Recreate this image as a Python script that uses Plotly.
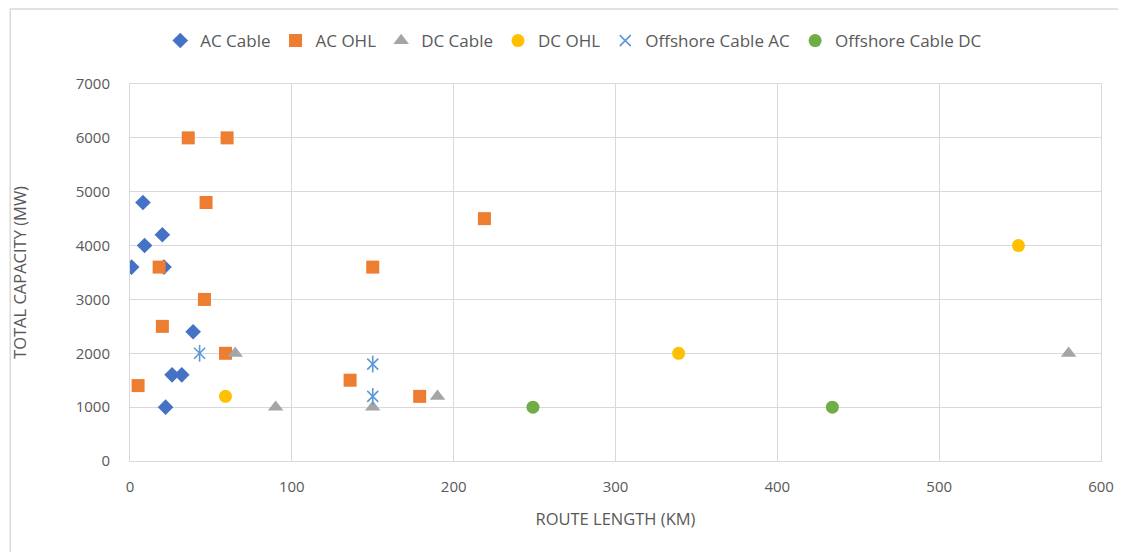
import plotly.graph_objects as go

# ---- data (route length km, total capacity MW) ----
ac_cable_x = [1, 8, 9, 20, 21, 39, 26, 32, 22]
ac_cable_y = [3600, 4800, 4000, 4200, 3600, 2400, 1600, 1600, 1000]

ac_ohl_x = [36, 60, 47, 18, 46, 20, 59, 5, 136, 150, 219, 179]
ac_ohl_y = [6000, 6000, 4800, 3600, 3000, 2500, 2000, 1400, 1500, 3600, 4500, 1200]

dc_cable_x = [65, 90, 150, 190, 580]
dc_cable_y = [2000, 1000, 1000, 1200, 2000]

dc_ohl_x = [59, 339, 549]
dc_ohl_y = [1200, 2000, 4000]

off_ac_x = [43, 150, 150]
off_ac_y = [2000, 1800, 1200]

off_dc_x = [249, 434]
off_dc_y = [1000, 1000]

x_ticks = [0, 100, 200, 300, 400, 500, 600]
y_ticks = [0, 1000, 2000, 3000, 4000, 5000, 6000, 7000]

FONT = "Open Sans"
TXT = "#595959"
GRID = "#d9d9d9"

fig = go.Figure()
fig.add_trace(go.Scatter(x=ac_cable_x, y=ac_cable_y, mode="markers", name="AC Cable",
                         marker=dict(symbol="diamond", size=12, color="#4472C4")))
fig.add_trace(go.Scatter(x=ac_ohl_x, y=ac_ohl_y, mode="markers", name="AC OHL",
                         marker=dict(symbol="square", size=13, color="#ED7D31")))
fig.add_trace(go.Scatter(x=dc_cable_x, y=dc_cable_y, mode="markers", name="DC Cable",
                         marker=dict(symbol="triangle-up", size=13.5, color="#A5A5A5")))
fig.add_trace(go.Scatter(x=dc_ohl_x, y=dc_ohl_y, mode="markers", name="DC OHL",
                         marker=dict(symbol="circle", size=13, color="#FFC000")))
fig.add_trace(go.Scatter(x=off_ac_x, y=off_ac_y, mode="markers", name="Offshore Cable AC",
                         legendgroup="offac",
                         marker=dict(symbol="x-thin-open", size=11, color="#5B9BD5",
                                     line=dict(width=1.6, color="#5B9BD5"))))
fig.add_trace(go.Scatter(x=off_ac_x, y=off_ac_y, mode="markers", name="Offshore Cable AC",
                         legendgroup="offac", showlegend=False,
                         marker=dict(symbol="line-ns-open", size=12, color="#5B9BD5",
                                     line=dict(width=1.6, color="#5B9BD5"))))
fig.add_trace(go.Scatter(x=off_dc_x, y=off_dc_y, mode="markers", name="Offshore Cable DC",
                         marker=dict(symbol="circle", size=13, color="#70AD47")))

fig.update_layout(
    width=1126, height=552,
    margin=dict(l=120, r=33, t=76, b=99),
    paper_bgcolor="white", plot_bgcolor="white",
    font=dict(family=FONT, size=14, color=TXT),
    showlegend=True,
    legend=dict(orientation="h", x=0.457, xanchor="center", y=1.114, yanchor="middle",
                font=dict(family=FONT, size=17, color=TXT), itemwidth=30,
                bgcolor="rgba(0,0,0,0)"),
    xaxis=dict(range=[0, 600], tickvals=x_ticks, showgrid=True, gridcolor=GRID, gridwidth=1,
               zeroline=False, showline=True, linecolor=GRID, mirror=True,
               ticks="outside", ticklen=12, tickcolor="rgba(0,0,0,0)",
               tickfont=dict(family=FONT, size=15, color=TXT),
               title=dict(text="ROUTE LENGTH (KM)", standoff=18,
                          font=dict(family=FONT, size=16.5, color=TXT))),
    yaxis=dict(range=[0, 7000], tickvals=y_ticks, showgrid=True, gridcolor=GRID, gridwidth=1,
               zeroline=False, showline=True, linecolor=GRID, mirror=True,
               ticks="outside", ticklen=16, tickcolor="rgba(0,0,0,0)",
               tickfont=dict(family=FONT, size=15, color=TXT),
               title=dict(text="TOTAL CAPACITY (MW)", standoff=44,
                          font=dict(family=FONT, size=16.5, color=TXT))),
    shapes=[dict(type="rect", xref="paper", yref="paper",
                 x0=-120 / 973, x1=1.2, y0=-0.5, y1=(461 - 9) / 377,
                 line=dict(color=GRID, width=1.5), fillcolor="rgba(0,0,0,0)", layer="below")],
)

fig.write_html("out.html")
